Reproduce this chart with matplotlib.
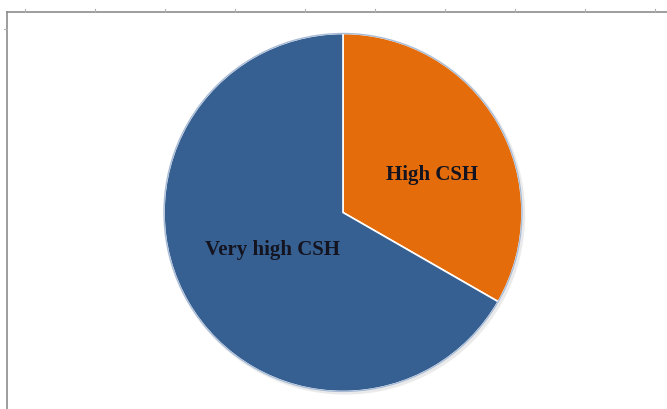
import matplotlib.pyplot as plt
from matplotlib.patches import Circle

labels = ['High CSH', 'Very high CSH']
shares = [33.3, 66.7]
colors = ['#E46C0A', '#376092']

W, H = 667, 410
fig = plt.figure(figsize=(W / 100, H / 100), dpi=100)
ax = fig.add_axes([0, 0, 1, 1])
ax.set_xlim(0, W)
ax.set_ylim(0, H)
ax.set_aspect('equal')
ax.axis('off')

# worksheet-style frame with little column ticks along the top
ax.plot([7, 7], [0, H - 13], color='#8c8c8c', lw=1.2)
ax.plot([7, W], [H - 13, H - 13], color='#8c8c8c', lw=1.2)
for x in range(25, W, 70):
    ax.plot([x, x], [H - 13, H - 10], color='#b0b0b0', lw=0.8)
ax.plot([4, 7], [H - 30, H - 30], color='#b0b0b0', lw=0.8)

cx, cy, r = 343, H - 213.5, 179

# soft shadow under the pie
for k, a in enumerate([0.05, 0.05, 0.06]):
    ax.add_patch(Circle((cx + 1.5 + k * 0.6, cy - 1.5 - k * 0.6), r + 1.5 - k * 0.5,
                        color='#7f7f7f', alpha=a, lw=0))

wedges, _ = ax.pie(shares, colors=colors, startangle=90, counterclock=False,
                   center=(cx, cy), radius=r, frame=True,
                   wedgeprops=dict(edgecolor='white', linewidth=1.2))
ax.add_patch(Circle((cx, cy), r, fill=False, edgecolor='#a9bcd6', lw=1.0))
ax.set_xlim(0, W)
ax.set_ylim(0, H)
ax.axis('off')

font = dict(family='Liberation Serif', weight='bold', size=15, color='#141420',
            ha='center', va='center')
ax.text(cx + 89.5, cy + 38.5, labels[0], **font)
ax.text(cx - 70.5, cy - 36.5, labels[1], **font)

fig.savefig('out.png', dpi=100)
